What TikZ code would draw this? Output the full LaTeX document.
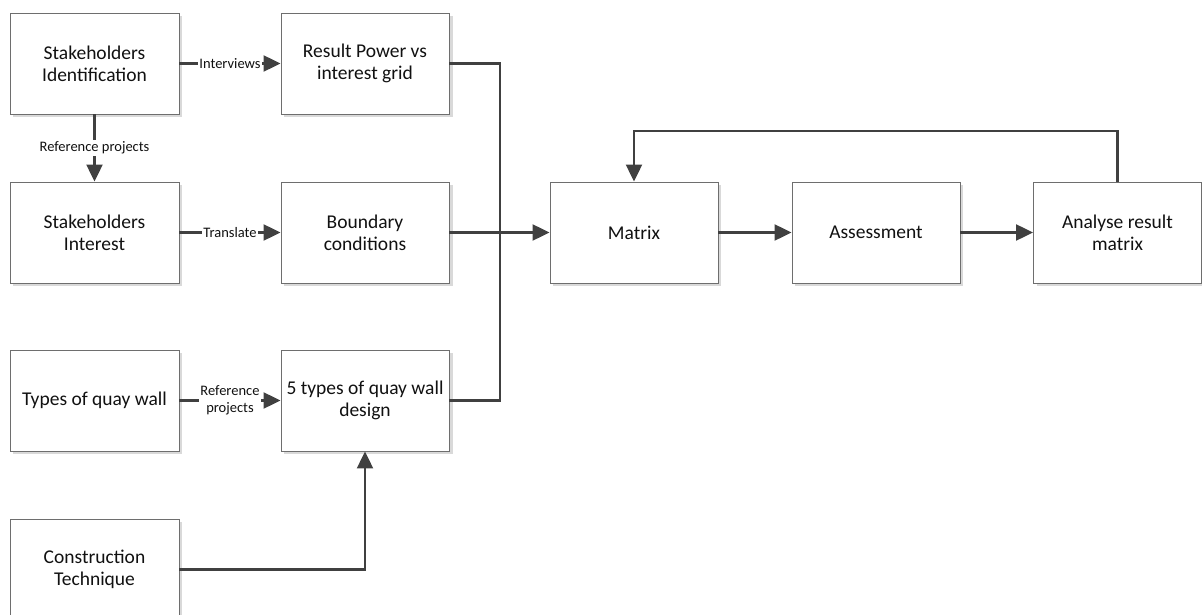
\documentclass[tikz,border=0pt]{standalone}
\usepackage{fontspec}
\setmainfont{Carlito}
\usetikzlibrary{arrows.meta,positioning,calc}
\definecolor{edgecol}{HTML}{404040}
\definecolor{boxline}{HTML}{6E6E6E}
\definecolor{shadowcol}{HTML}{D9D9D9}
\definecolor{textcol}{HTML}{111111}
\tikzset{
  procbox/.style={draw=boxline, line width=0.9pt, fill=white,
    minimum width=169pt, minimum height=101pt, inner sep=3pt,
    align=center, text=textcol,
    font=\fontsize{19.5}{22}\selectfont},
  flow/.style={draw=edgecol, line width=2.2pt,
    -{Triangle[length=17pt,width=16pt]}},
  plainflow/.style={draw=edgecol, line width=2.2pt},
  edgelabel/.style={fill=white, inner sep=1.5pt, text=textcol,
    font=\fontsize{14.5}{17}\selectfont, align=center}
}
\begin{document}
\begin{tikzpicture}[x=1pt,y=-1pt]
\useasboundingbox (0,0) rectangle (1202,615);

% soft drop shadows behind every box
\foreach \cx/\cy in {94.5/63.5,365/63.5,94.5/232.5,365/232.5,94.5/400.5,365/400.5,94.5/569.5}{
  \fill[shadowcol] (\cx-84.5+3,\cy-50.5+3) rectangle (\cx+84.5+3,\cy+50.5+3);
}
\foreach \cx in {634,876,1117.5}{
  \fill[shadowcol] (\cx-84+3,232.5-50.5+3) rectangle (\cx+84+3,232.5+50.5+3);
}

% left column
\node[procbox] (sid) at (94.5,63.5) {Stakeholders\\Identification};
\node[procbox] (sin) at (94.5,232.5) {Stakeholders\\Interest};
\node[procbox] (tqw) at (94.5,400.5) {Types of quay wall};
\node[procbox] (con) at (94.5,569.5) {Construction\\Technique};

% middle column
\node[procbox, minimum width=168pt] (res) at (365,63.5) {Result Power vs\\interest grid};
\node[procbox, minimum width=168pt] (bnd) at (365,232.5) {Boundary\\conditions};
\node[procbox, minimum width=168pt] (fiv) at (365,400.5) {5 types of quay wall\\design};

% right row
\node[procbox, minimum width=168pt] (mat) at (634,232.5) {Matrix};
\node[procbox, minimum width=168pt] (ass) at (876,232.5) {Assessment};
\node[procbox, minimum width=168pt] (ana) at (1117.5,232.5) {Analyse result\\matrix};

% junction column feeding the matrix
\coordinate (bus) at (500,232.5);

% connectors with labels
\draw[flow] (sid.east) -- node[edgelabel] {Interviews} (res.west);
\draw[flow] (sin.east) -- node[edgelabel] {Translate} (bnd.west);
\draw[flow] (sid.south) -- node[edgelabel, pos=0.5] {Reference projects} (sin.north);
\draw[flow] (tqw.east) -- node[edgelabel, font=\fontsize{14.5}{16.5}\selectfont] {Reference\\projects} (fiv.west);
\draw[flow] (con.east) -| (fiv.south);

% merging into the matrix
\draw[plainflow] (res.east) -| (bus);
\draw[plainflow] (fiv.east) -| (bus);
\draw[flow] (bnd.east) -- (mat.west);

% main chain and feedback loop
\draw[flow] (mat.east) -- (ass.west);
\draw[flow] (ass.east) -- (ana.west);
\coordinate (fbR) at (1117.5,131);
\coordinate (fbL) at (634,131);
\draw[flow] (ana.north) -- (fbR) -- (fbL) -- (mat.north);
\end{tikzpicture}
\end{document}
